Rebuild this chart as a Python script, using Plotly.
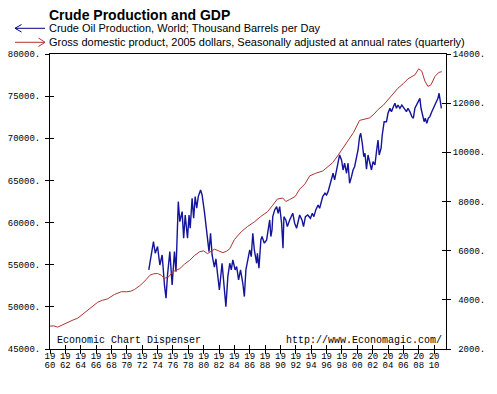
import plotly.graph_objects as go

# ---------------- data ----------------
oil_years = [1972.86, 1973.47, 1973.70, 1974.00, 1974.30, 1974.60, 1974.90, 1975.10, 1975.30, 1975.60,
             1975.90, 1976.20, 1976.40, 1976.70, 1976.90, 1977.20, 1977.40, 1977.60, 1977.90, 1978.10,
             1978.25, 1978.50, 1978.70, 1978.90, 1979.10, 1979.30, 1979.60, 1979.80, 1980.10, 1980.40,
             1980.70, 1980.90, 1981.10, 1981.40, 1981.60, 1981.80, 1982.05, 1982.40, 1982.60, 1982.90,
             1983.15, 1983.40, 1983.60, 1983.80, 1984.10, 1984.30, 1984.55, 1984.80, 1985.10, 1985.30,
             1985.50, 1985.80, 1986.00, 1986.20, 1986.40, 1986.60, 1986.90, 1987.00, 1987.20, 1987.45,
             1987.60, 1987.90, 1988.20, 1988.40, 1988.60, 1988.75, 1988.90, 1989.00, 1989.25, 1989.50,
             1989.70, 1989.90, 1990.15, 1990.33, 1990.45, 1990.70, 1990.90, 1991.20, 1991.40, 1991.60,
             1991.85, 1992.10, 1992.50, 1992.80, 1993.00, 1993.25, 1993.55, 1993.90, 1994.15, 1994.35,
             1994.60, 1994.90, 1995.10, 1995.30, 1995.50, 1995.80, 1996.00, 1996.20, 1996.40, 1996.65,
             1996.85, 1997.05, 1997.30, 1997.50, 1997.70, 1997.95, 1998.15, 1998.35, 1998.60, 1998.80,
             1999.00, 1999.25, 1999.45, 1999.65, 1999.90, 2000.10, 2000.30, 2000.45, 2000.65, 2000.85,
             2001.00, 2001.20, 2001.40, 2001.60, 2001.85, 2002.05, 2002.30, 2002.50, 2002.70, 2002.85,
             2003.10, 2003.25, 2003.50, 2003.80, 2004.00, 2004.25, 2004.45, 2004.70, 2004.90, 2005.10,
             2005.30, 2005.55, 2005.80, 2006.10, 2006.40, 2006.60, 2006.85, 2007.10, 2007.30, 2007.50,
             2007.70, 2007.95, 2008.15, 2008.30, 2008.45, 2008.70, 2008.85, 2009.05, 2009.25, 2009.45,
             2009.70, 2009.90, 2010.10, 2010.30, 2010.50, 2010.65, 2010.80, 2010.95]
oil_values = [54380, 57740, 56360, 57150, 54970, 56160, 52600, 51030, 53790, 56550,
              52600, 56550, 54180, 62480, 60110, 61300, 58140, 60900, 58140, 60900,
              59330, 62890, 60510, 63080, 61700, 63080, 63870, 63280, 61300, 59130,
              56550, 58730, 56160, 54700, 55700, 54000, 52000, 55170, 52800, 50030,
              53590, 55170, 54380, 55570, 54380, 54780, 53190, 54380, 52800, 51220,
              54380, 55960, 56750, 55960, 58730, 56750, 55170, 56360, 54580, 57940,
              58340, 57550, 57940, 59130, 60310, 58340, 59130, 60700, 61500, 61900,
              61110, 61900, 59900, 56960, 60700, 60310, 59520, 60300, 60700, 61110,
              59920, 59330, 60900, 60310, 59520, 60700, 60900, 60510, 61110, 60700,
              61500, 62090, 61700, 62480, 63080, 63480, 63280, 63670, 64260, 65060,
              65850, 65060, 66240, 67040, 68020, 67430, 66240, 67040, 65850, 67040,
              64660, 65450, 66240, 66630, 67820, 68610, 70190, 70590, 69410, 67820,
              68220, 66340, 68020, 67220, 66240, 67220, 66830, 68410, 69800, 68020,
              68820, 70390, 71970, 71970, 72970, 73560, 73160, 73750, 74150, 73560,
              73950, 73560, 73950, 73560, 73160, 73560, 73160, 72570, 72380, 73560,
              73950, 74340, 74740, 73560, 72770, 71970, 72380, 71780, 72380, 72570,
              73160, 73560, 74150, 74340, 74740, 75340, 74340, 73560]

gdp_years = [1960.0, 1960.5, 1961.0, 1961.5, 1962.0, 1962.5, 1963.0, 1963.6, 1964.2, 1964.8,
             1965.5, 1966.2, 1966.8, 1967.5, 1968.4, 1969.3, 1970.0, 1970.5, 1971.0, 1971.8,
             1972.5, 1973.0, 1973.5, 1974.0, 1974.5, 1974.9, 1975.5, 1976.0, 1976.9, 1977.5,
             1978.2, 1978.8, 1979.5, 1980.0, 1980.5, 1981.0, 1981.4, 1981.9, 1982.5, 1983.0,
             1983.4, 1984.0, 1984.9, 1985.7, 1986.6, 1987.4, 1988.3, 1989.0, 1989.6, 1990.3,
             1990.7, 1991.2, 1991.9, 1992.5, 1993.2, 1993.8, 1994.6, 1995.5, 1996.2, 1996.8,
             1997.5, 1998.2, 1998.8, 1999.5, 2000.3, 2000.9, 2001.6, 2002.2, 2002.7, 2003.4,
             2004.0, 2004.7, 2005.3, 2006.0, 2006.6, 2007.5, 2008.0, 2008.4, 2008.8, 2009.2,
             2009.6, 2010.1, 2010.6, 2011.0]
gdp_values = [2930, 2940, 2890, 2960, 3060, 3120, 3180, 3250, 3400, 3520,
              3700, 3900, 3980, 4040, 4220, 4330, 4330, 4350, 4420, 4600,
              4820, 5000, 5060, 5070, 5000, 4870, 4950, 5150, 5270, 5450,
              5610, 5800, 5960, 5990, 5880, 5990, 6060, 6000, 5920, 5980,
              6080, 6450, 6770, 6980, 7170, 7380, 7580, 7850, 8100, 8140,
              8000, 8080, 8200, 8500, 8720, 9040, 9150, 9240, 9420, 9580,
              9880, 10190, 10500, 10800, 11300, 11360, 11400, 11560, 11740, 11920,
              12140, 12380, 12610, 12800, 12990, 13150, 13400, 13300, 12900, 12680,
              12750, 13080, 13250, 13280]

x_tick_years = list(range(1960, 2011, 2))
x_tick_top = [str(y)[:2] for y in x_tick_years]
x_tick_bottom = [str(y)[2:] for y in x_tick_years]
left_ticks = [45000, 50000, 55000, 60000, 65000, 70000, 75000, 80000]
left_tick_text = [f"{v}." for v in left_ticks]
right_ticks = [2000, 4000, 6000, 8000, 10000, 12000, 14000]
right_tick_text = [f"{v}.".rjust(6, "\u00a0") for v in right_ticks]

title_text = "Crude Production and GDP"
legend_oil = "Crude Oil Production, World; Thousand Barrels per Day"
legend_gdp = "Gross domestic product, 2005 dollars, Seasonally adjusted at annual rates (quarterly)"

# ---------------- geometry helpers ----------------
# the page body has an 8px margin, so the figure is drawn 8px right/down
OFF = 8
W, H = 497 - OFF, 394 - OFF
L, R, T, B = 50 - OFF, 51, 54 - OFF, 45
PW, PH = W - L - R, H - T - B


def px(x):
    return (x - OFF - L) / PW


def py(y):
    return (H + OFF - B - y) / PH


BLUE = "#14149c"
RED = "#b03434"
MONO = "Liberation Mono, DejaVu Sans Mono, monospace"
SANS = "Liberation Sans, Arial, sans-serif"
XR = [1960, 2011.55]

fig = go.Figure()
fig.add_trace(go.Scatter(x=oil_years, y=oil_values, mode="lines",
                         line=dict(color=BLUE, width=1.4), xaxis="x", yaxis="y",
                         showlegend=False, hoverinfo="skip"))
fig.add_trace(go.Scatter(x=gdp_years, y=gdp_values, mode="lines",
                         line=dict(color=RED, width=1), xaxis="x", yaxis="y2",
                         showlegend=False, hoverinfo="skip"))
# empty helper traces so the inside-tick axes exist
fig.add_trace(go.Scatter(x=[None], y=[None], xaxis="x2", yaxis="y3",
                         showlegend=False, hoverinfo="skip"))
fig.add_trace(go.Scatter(x=[None], y=[None], xaxis="x2", yaxis="y4",
                         showlegend=False, hoverinfo="skip"))

tickfont = dict(family=MONO, size=9, color="black")
common = dict(showgrid=False, zeroline=False, linecolor="black", linewidth=1,
              tickcolor="black", ticklen=4, tickwidth=1, fixedrange=True,
              automargin=False)

fig.update_layout(
    width=W, height=H,
    margin=dict(l=L, r=R, t=T, b=B, pad=0, autoexpand=False),
    paper_bgcolor="white", plot_bgcolor="white",
    xaxis=dict(range=XR, tickmode="array", tickvals=x_tick_years, ticktext=x_tick_top,
               ticks="outside", showline=True, mirror=True, tickfont=tickfont,
               ticklabelstandoff=-6, **common),
    xaxis2=dict(range=XR, overlaying="x", anchor="y", side="bottom", tickmode="array",
                tickvals=x_tick_years, ticktext=x_tick_bottom, ticks="inside",
                showline=False, tickfont=tickfont, ticklabelstandoff=9, **common),
    yaxis=dict(range=[45000, 80000], tickmode="array", tickvals=left_ticks,
               ticktext=left_tick_text, ticks="outside", showline=True,
               tickfont=tickfont, ticklabelstandoff=3, **common),
    yaxis2=dict(range=[2000, 14000], overlaying="y", side="right", tickmode="array",
                tickvals=right_ticks, ticktext=right_tick_text, ticks="outside",
                showline=True, tickfont=tickfont, **common),
    yaxis3=dict(range=[45000, 80000], overlaying="y", side="left", tickmode="array",
                tickvals=left_ticks, ticks="inside", showticklabels=False,
                showline=False, **common),
    yaxis4=dict(range=[2000, 14000], overlaying="y", side="right", tickmode="array",
                tickvals=right_ticks, ticks="inside", showticklabels=False,
                showline=False, **common),
)

annotations = [
    dict(text=f"<b>{title_text}</b>", x=px(50), y=py(14.5), xanchor="left", yanchor="middle",
         xshift=-3, font=dict(family=SANS, size=14, color="black")),
    dict(text=legend_oil, x=px(50), y=py(28.3), xanchor="left", yanchor="middle",
         xshift=-3, font=dict(family=SANS, size=11, color="black")),
    dict(text=legend_gdp, x=px(50), y=py(42.3), xanchor="left", yanchor="middle",
         xshift=-3, font=dict(family=SANS, size=11, color="black")),
    dict(text="Economic Chart Dispenser", x=px(57.5), y=py(340.5), xanchor="left",
         yanchor="middle", xshift=-3, font=dict(family=MONO, size=10, color="black")),
    dict(text="http://www.Economagic.com/", x=px(442), y=py(340.5), xanchor="right",
         yanchor="middle", xshift=2, font=dict(family=MONO, size=10, color="black")),
]
for a in annotations:
    a.update(xref="paper", yref="paper", showarrow=False)
fig.update_layout(annotations=annotations)


def seg(x0, y0, x1, y1, color):
    return dict(type="line", xref="paper", yref="paper", x0=px(x0), y0=py(y0),
                x1=px(x1), y1=py(y1), line=dict(color=color, width=1))


shapes = [
    seg(15, 28.3, 45, 28.3, "#000080"),
    seg(15, 28.3, 21.5, 24.5, "#000080"),
    seg(15, 28.3, 21.5, 32, "#000080"),
    seg(15, 42.3, 45, 42.3, RED),
    seg(45, 42.3, 38.5, 38, RED),
    seg(45, 42.3, 38.5, 46.5, RED),
]
fig.update_layout(shapes=shapes)

fig.write_html("out.html")
